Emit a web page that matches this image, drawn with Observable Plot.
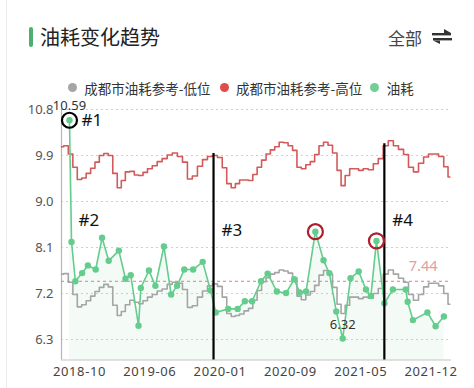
<!DOCTYPE html>
<html><head><meta charset="utf-8">
<script src="https://cdn.jsdelivr.net/npm/d3@7"></script>
<script src="https://cdn.jsdelivr.net/npm/@observablehq/plot@0.6"></script>
<style>
html,body{margin:0;padding:0;background:#fff;}
#wrap{position:relative;width:474px;height:388px;overflow:hidden;font-family:"Noto Sans CJK SC","Noto Sans",sans-serif;background:#fff;}
.edge{position:absolute;left:6px;top:0;width:1px;height:388px;background:#ececec;}
.bar{position:absolute;left:29px;top:27px;width:4px;height:20px;border-radius:2px;background:#4caf72;}
.title{position:absolute;left:40px;top:27px;font-size:20px;line-height:20px;color:#222;font-weight:400;white-space:nowrap;}
.all{position:absolute;left:388px;top:28.5px;font-size:17px;line-height:17px;color:#444;white-space:nowrap;}
.icon{position:absolute;left:432px;top:29px;}
.lg-dot{position:absolute;width:9px;height:9px;border-radius:50%;top:83px;}
.lg-txt{position:absolute;top:80.5px;font-size:13.5px;line-height:14px;color:#333;white-space:nowrap;}
#chart{position:absolute;left:0;top:100px;}
#chart svg [aria-label="x-axis tick label"] text{letter-spacing:0.6px;}
</style></head><body>
<div id="wrap">
  <div class="edge"></div>
  <div class="bar"></div>
  <div class="title">油耗变化趋势</div>
  <div class="all">全部</div>
  <svg class="icon" width="20" height="15" viewBox="0 0 20 15">
    <rect x="0" y="4" width="19" height="2.4" fill="#333"/>
    <polygon points="12,0 19,4 12,4" fill="#333"/>
    <rect x="1" y="9" width="19" height="2.4" fill="#333"/>
    <polygon points="1,11.4 8,11.4 8,15" fill="#333"/>
  </svg>
  <div id="legend"></div>
  <div id="chart"></div>
</div>
<script>
// ---------- data ----------
const seriesNames = ["成都市油耗参考-低位", "成都市油耗参考-高位", "油耗"];
const seriesColors = ["#a5a5a5", "#e04b4b", "#6fcf97"];

const refDates = [
  "2018-08-01","2018-08-16","2018-09-01","2018-09-16","2018-10-01","2018-10-16","2018-11-01","2018-11-16",
  "2018-12-01","2018-12-16","2019-01-01","2019-01-16","2019-02-01","2019-02-16","2019-03-01","2019-03-16",
  "2019-04-01","2019-04-16","2019-05-01","2019-05-16","2019-06-01","2019-06-16","2019-07-01","2019-07-16",
  "2019-08-01","2019-08-16","2019-09-01","2019-09-16","2019-10-01","2019-10-16","2019-11-01","2019-11-16",
  "2019-12-01","2019-12-16","2020-01-01","2020-01-16","2020-02-01","2020-02-16","2020-03-01","2020-03-16",
  "2020-04-01","2020-04-16","2020-05-01","2020-05-16","2020-06-01","2020-06-16","2020-07-01","2020-07-16",
  "2020-08-01","2020-08-16","2020-09-01","2020-09-16","2020-10-01","2020-10-16","2020-11-01","2020-11-16",
  "2020-12-01","2020-12-16","2021-01-01","2021-01-16","2021-02-01","2021-02-16","2021-03-01","2021-03-16",
  "2021-04-01","2021-04-16","2021-05-01","2021-05-16","2021-06-01","2021-06-16","2021-07-01","2021-07-16",
  "2021-08-01","2021-08-16","2021-09-01","2021-09-16","2021-10-01","2021-10-16","2021-11-01","2021-11-16",
  "2021-12-01","2021-12-16","2022-01-01","2022-01-16","2022-01-27"
];
const refHigh = [
  10.07,10.09,9.93,9.67,9.43,9.46,9.55,9.65,
  9.77,9.90,9.94,9.90,9.55,9.27,9.41,9.58,
  9.59,9.52,9.51,9.57,9.64,9.70,9.78,9.84,
  9.91,9.95,9.88,9.77,9.44,9.50,9.69,9.82,
  9.88,9.90,9.86,9.66,9.35,9.27,9.35,9.42,
  9.42,9.41,9.53,9.67,9.81,9.93,10.01,10.07,
  10.16,10.15,10.09,10.00,9.67,9.64,9.72,9.78,
  9.92,10.09,10.16,10.10,9.95,9.61,9.31,9.51,
  9.64,9.64,9.61,9.64,9.62,9.74,9.84,10.09,
  10.19,10.09,10.02,9.92,9.67,9.58,9.75,9.87,
  9.93,9.93,9.88,9.68,9.48
];
const refLow = [
  7.58,7.59,7.42,7.18,6.94,6.98,7.06,7.15,
  7.24,7.32,7.38,7.33,6.97,6.77,6.85,6.98,
  7.07,7.03,7.00,7.06,7.13,7.18,7.25,7.29,
  7.38,7.42,7.40,7.28,6.93,6.96,7.13,7.25,
  7.35,7.39,7.34,7.13,6.81,6.75,6.77,6.80,
  6.86,6.91,7.07,7.26,7.43,7.51,7.58,7.61,
  7.66,7.64,7.60,7.51,7.15,7.08,7.17,7.24,
  7.36,7.56,7.65,7.58,7.32,6.99,6.81,6.97,
  7.13,7.13,7.10,7.13,7.11,7.20,7.30,7.58,
  7.66,7.58,7.50,7.42,7.18,7.07,7.18,7.33,
  7.40,7.40,7.35,7.20,6.99
];

const fuelDates = [
  "2018-08-28","2018-09-04","2018-09-17","2018-10-10","2018-10-30","2018-11-26","2018-12-18","2019-01-10",
  "2019-02-14","2019-03-09","2019-03-27","2019-04-23","2019-05-01","2019-05-29","2019-06-18","2019-07-14",
  "2019-08-05","2019-08-23","2019-09-14","2019-10-11","2019-11-09","2019-12-03","2019-12-19","2020-01-29",
  "2020-03-02","2020-03-27","2020-04-21","2020-05-22","2020-06-14","2020-07-16","2020-08-17","2020-09-14",
  "2020-10-03","2020-10-25","2020-11-26","2020-12-24","2021-01-13","2021-02-06","2021-02-28","2021-03-27",
  "2021-04-24","2021-05-17","2021-06-01","2021-06-18","2021-07-12","2021-08-07","2021-09-15","2021-09-21",
  "2021-10-07","2021-11-20","2021-12-15","2022-01-09"
];
const fuelValues = [
  10.59,8.21,7.44,7.60,7.75,7.67,8.29,7.84,
  8.04,7.49,7.56,6.57,7.31,7.65,7.35,8.12,
  7.18,7.35,7.67,7.67,7.82,7.26,6.83,6.90,
  6.90,7.05,7.05,7.44,7.59,7.24,7.21,7.48,
  7.22,7.24,8.41,7.85,7.60,6.85,6.32,7.50,
  7.63,7.28,7.15,8.23,7.01,7.28,7.28,7.04,
  6.68,6.83,6.56,6.75
];
const avgValue = 7.44;

const yTicks = [6.3, 7.2, 8.1, 9.0, 9.9, 10.8];
const xTickLabels = ["2018-10","2019-06","2020-01","2020-09","2021-05","2021-12"];
const xStart = "2018-08-01", xEnd = "2022-02-01";

// annotations
const noteLabels = ["#1","#2","#3","#4"];
const noteDates = ["2018-08-28","2018-09-04","2019-12-12","2021-07-12"];
const ruleTops = [null, null, 9.94, 10.13];
const blackCircleDates = ["2018-08-28"];
const redCircleDates = ["2020-11-26","2021-06-18"];

// ---------- build ----------
const parse = d3.utcParse("%Y-%m-%d");
const parseM = d3.utcParse("%Y-%m");
const ref = refDates.map((d, i) => ({date: parse(d), low: refLow[i], high: refHigh[i]}));
const fuel = fuelDates.map((d, i) => ({date: parse(d), value: fuelValues[i]}));
const notes = noteLabels.map((l, i) => ({label: l, date: parse(noteDates[i]), top: ruleTops[i]}));
const fuelAt = s => fuel.find(d => +d.date === +parse(s));

const W = 474, H = 288, ML = 61, MR = 23, MT = 9, MB = 28.5;
const yMin = 5.9, yMax = 10.8;
const xTicks = xTickLabels.map(parseM);
const xDomain = [parse(xStart), ...xTicks, parse(xEnd)];
const firstTick = ML + 18, step = 70.3;
const xRange = [ML, ...xTicks.map((_, i) => firstTick + i * step), W - MR];

const green = "#64cc8c";

const chart = Plot.plot({
  width: W, height: H,
  marginLeft: ML, marginRight: MR, marginTop: MT, marginBottom: MB,
  style: {fontFamily: '"Noto Sans","Noto Sans CJK SC",sans-serif', fontSize: "13px", background: "transparent", overflow: "visible"},
  x: {type: "utc", domain: xDomain, range: xRange},
  y: {domain: [yMin, yMax]},
  marks: [
    Plot.gridY(yTicks, {stroke: "#cfcfcf", strokeOpacity: 1, strokeDasharray: "2,3"}),
    Plot.areaY(fuel, {x: "date", y1: yMin, y2: "value", fill: green, fillOpacity: 0.07}),
    Plot.ruleX([xDomain[0]], {stroke: "#b5b5b5", strokeWidth: 1.2}),
    Plot.ruleY([yMin], {stroke: "#c4c4c4", strokeWidth: 1.2}),
    Plot.axisY(yTicks, {tickSize: 0, tickPadding: 8, tickFormat: d => d.toFixed(1), fill: "#555", fontSize: 13}),
    Plot.axisX(xTicks, {tickSize: 0, tickPadding: 7, tickFormat: d3.utcFormat("%Y-%m"), fill: "#444", fontSize: 13}),
    Plot.ruleY([avgValue], {stroke: "#d98080", strokeDasharray: "3,3", strokeWidth: 1}),
    Plot.line(ref, {x: "date", y: "low", curve: "step", stroke: "#a5a5a5", strokeWidth: 1.6}),
    Plot.line(ref, {x: "date", y: "high", curve: "step", stroke: "#d25a5a", strokeWidth: 1.6}),
    Plot.line(fuel, {x: "date", y: "value", stroke: green, strokeWidth: 1.6}),
    Plot.dot(fuel, {x: "date", y: "value", r: 3.2, fill: green}),
    Plot.ruleX(notes.filter(d => d.top != null), {x: "date", y1: "top", y2: yMin, stroke: "#000", strokeWidth: 2.2}),
    Plot.dot(blackCircleDates.map(fuelAt), {x: "date", y: "value", r: 7.5, stroke: "#000", strokeWidth: 2.2, fill: "none"}),
    Plot.dot(redCircleDates.map(fuelAt), {x: "date", y: "value", r: 7.5, stroke: "#b01e2c", strokeWidth: 2.2, fill: "none"}),
    Plot.text([d3.greatest(fuel, d => d.value), d3.least(fuel, d => d.value)], {x: "date", y: "value", text: d => d.value.toFixed(2), dy: -14, fill: "#333", fontSize: 13}),
    Plot.text([avgValue], {y: d => d, text: d => d.toFixed(2), frameAnchor: "right", textAnchor: "end", dx: -14, dy: -15, fill: "#e0a0a0", fontSize: 14.5}),
    Plot.text(notes.slice(0, 1), {x: "date", y: d => fuelAt(noteDates[0]).value, text: "label", textAnchor: "start", dx: 12, dy: 0, fill: "#111", fontSize: 17}),
    Plot.text(notes.slice(1, 2), {x: "date", y: d => fuelAt(noteDates[1]).value, text: "label", textAnchor: "start", dx: 7, dy: -21, fill: "#111", fontSize: 17}),
    Plot.text(notes.slice(2), {x: "date", y: "top", text: "label", textAnchor: "start", dx: 8, dy: 77, fill: "#111", fontSize: 17})
  ]
});
document.getElementById("chart").appendChild(chart);

// legend
const lg = document.getElementById("legend");
const dotX = [72.7, 224, 374.7];
const txtX = [84.3, 236, 386.7];
seriesNames.forEach((n, i) => {
  const d = document.createElement("div");
  d.className = "lg-dot"; d.style.left = (dotX[i] - 4.5) + "px"; d.style.background = seriesColors[i];
  const t = document.createElement("div");
  t.className = "lg-txt"; t.style.left = txtX[i] + "px"; t.textContent = n;
  lg.appendChild(d); lg.appendChild(t);
});
</script>
</body></html>
